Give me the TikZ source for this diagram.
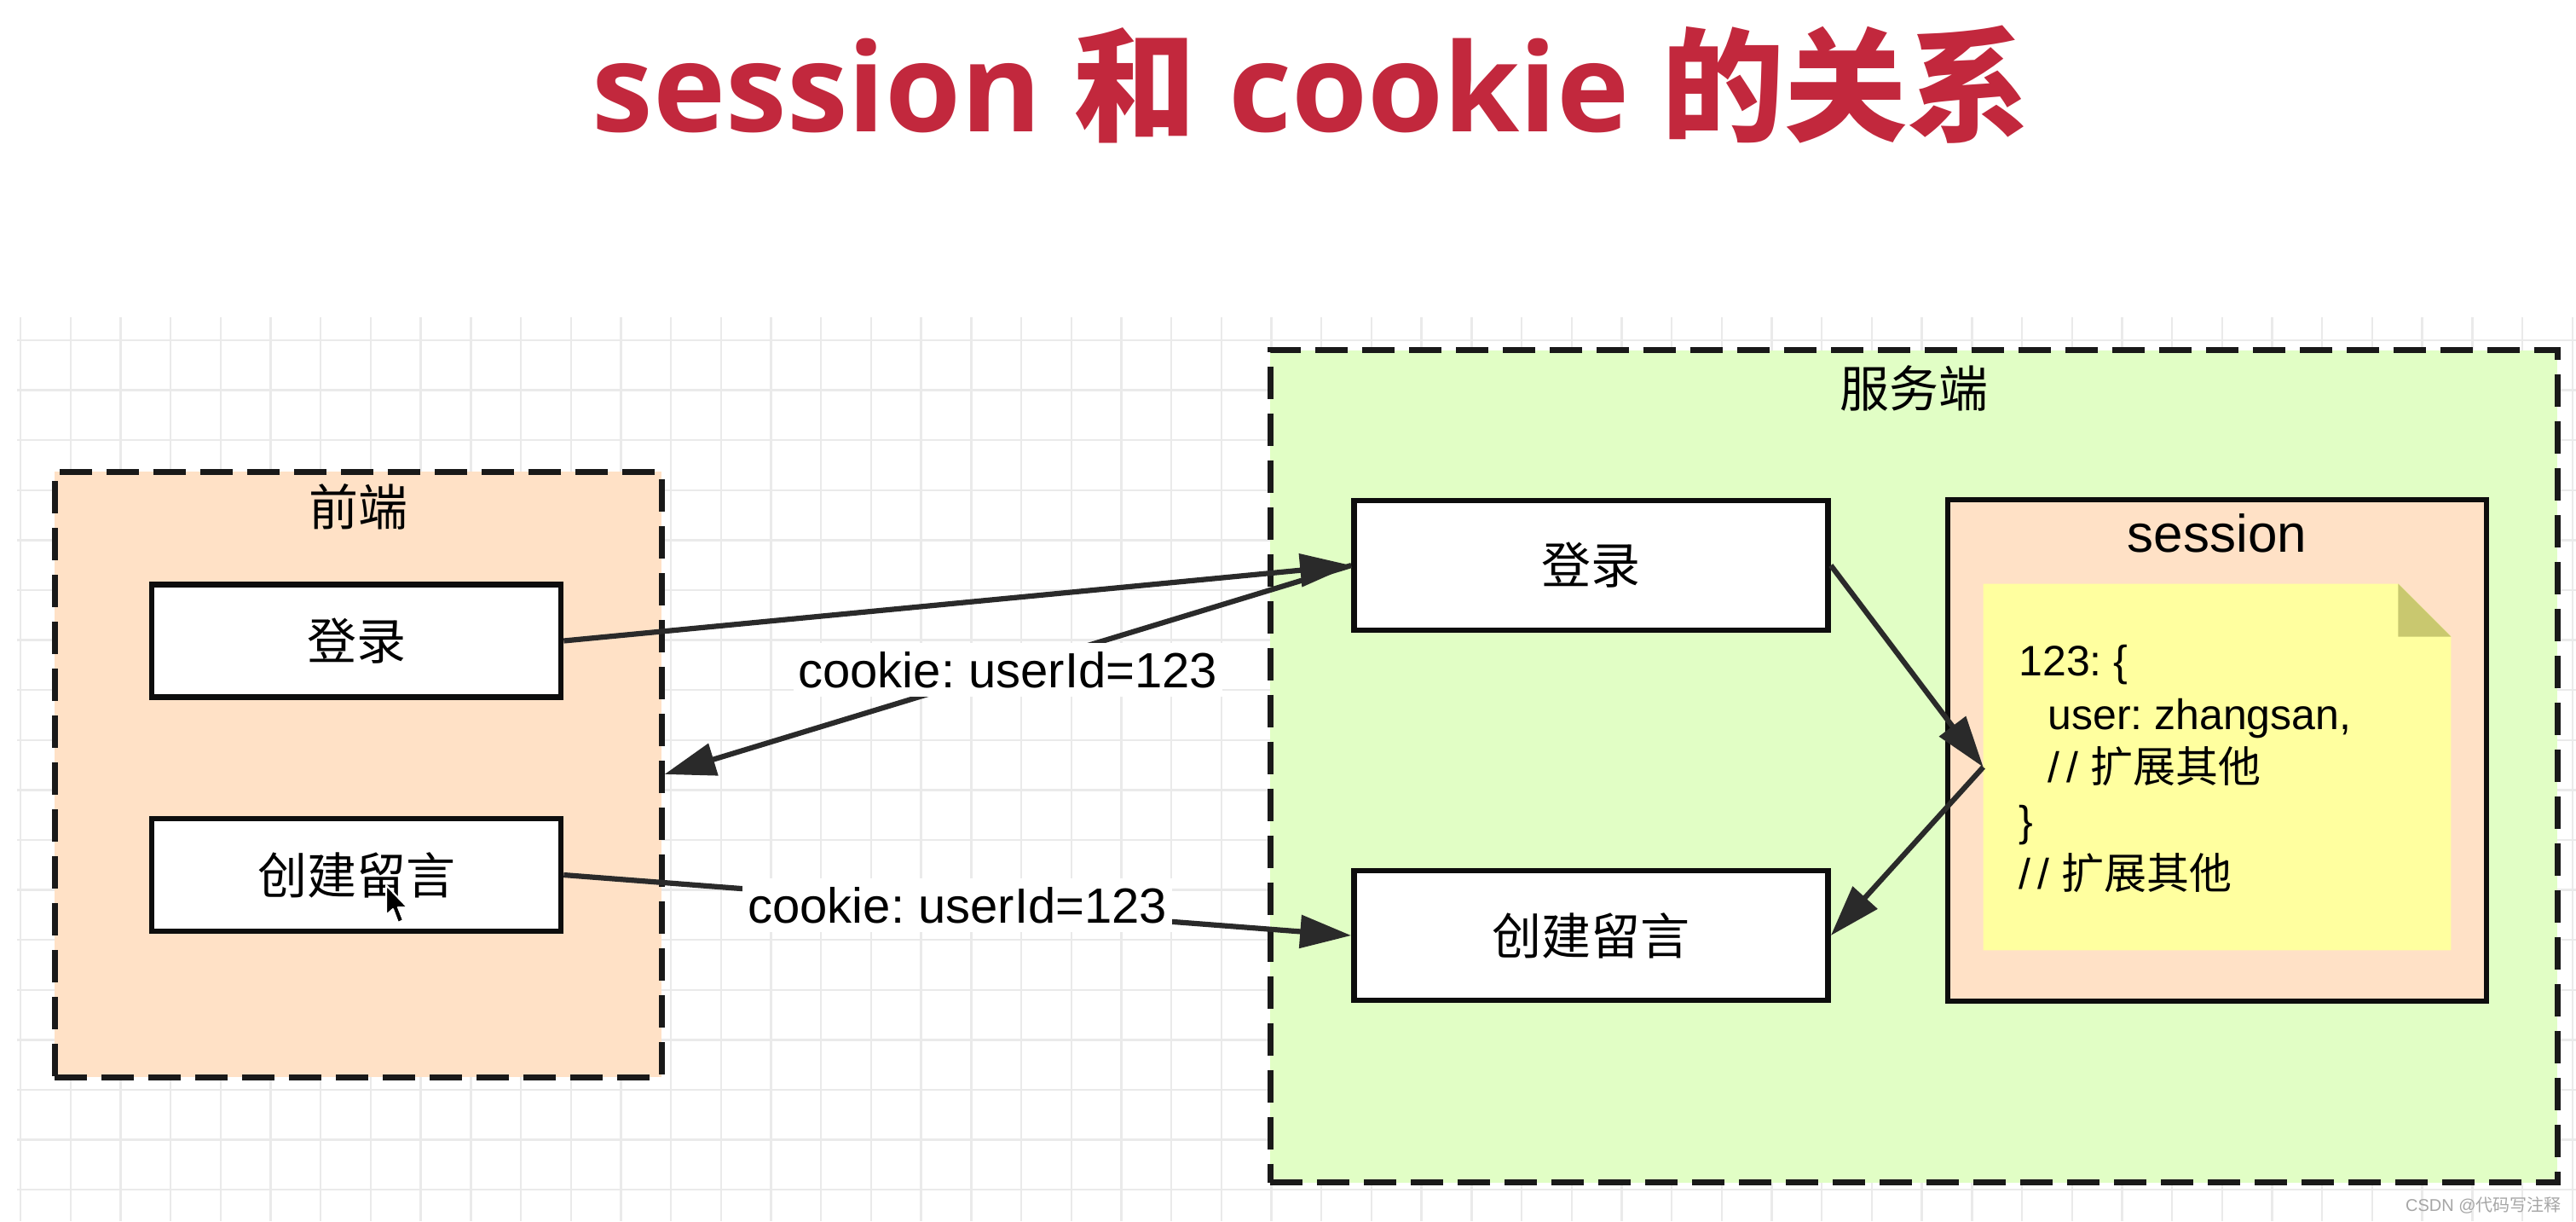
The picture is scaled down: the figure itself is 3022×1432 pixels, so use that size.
\documentclass[tikz,border=0pt]{standalone}
\usepackage{fontspec}
\setmainfont{Liberation Sans}
\newfontfamily\cjk{Noto Sans CJK SC}
\newfontfamily\titlefont{Open Sans}
\usetikzlibrary{arrows.meta}
\definecolor{titlered}{HTML}{C2283D}
\definecolor{gridc}{HTML}{EAEAEA}
\definecolor{peach}{HTML}{FFE1C6}
\definecolor{lgreen}{HTML}{E1FEC5}
\definecolor{noteyellow}{HTML}{FFFF9F}
\definecolor{notefold}{HTML}{C9C86F}
\definecolor{arrowc}{HTML}{2A2A2A}
\definecolor{wmgray}{HTML}{A6A6A6}
\frenchspacing
\begin{document}
\begin{tikzpicture}[x=0.5pt,y=-0.5pt,
  gridline/.style={draw=gridc, line width=1.2pt},
  container/.style={draw=black!90, line width=3.5pt, dash pattern=on 19pt off 8.5pt, inner sep=0pt},
  box/.style={draw=black!95, line width=3.3pt, fill=white, inner sep=0pt, minimum width=240pt, minimum height=66pt, font=\fontsize{29pt}{34pt}\selectfont},
  srvbox/.style={box, minimum width=278pt, minimum height=76pt},
  lbl/.style={inner sep=0pt, font=\fontsize{29pt}{34pt}\selectfont},
  cklabel/.style={fill=white, inner xsep=3pt, inner ysep=5pt, font=\fontsize{29pt}{34pt}\selectfont},
  notetxt/.style={anchor=base west, inner sep=0pt, font=\fontsize{25pt}{31pt}\selectfont},
  conn/.style={draw=arrowc, line width=3.1pt, -{Triangle[length=30pt,width=19pt]}}
]
\useasboundingbox (0,0) rectangle (3022,1432);
\fill[white] (0,0) rectangle (3022,1432);

% grid
\foreach \i in {0,...,51} \draw[gridline] ({24+58.7*\i},372) -- ({24+58.7*\i},1432);
\foreach \j in {0,...,17} \draw[gridline] (20,{399+58.6*\j}) -- (3022,{399+58.6*\j});

% title
\node[anchor=base, text=titlered, inner sep=0pt] (title) at (1538,154)
  {\fontsize{72pt}{80pt}\selectfont\titlefont\bfseries session {\cjk\bfseries 和} cookie {\cjk\bfseries 的关系}};

% containers
\node[container, fill=peach, minimum width=356pt, minimum height=355pt] (fe) at (420,908) {};
\node[lbl] (felabel) at (420,594) {\cjk 前端};
\node[container, fill=lgreen, minimum width=755pt, minimum height=488pt] (srv) at (2245,898.5) {};
\node[lbl] (srvlabel) at (2245,455) {\cjk 服务端};

% front-end boxes
\node[box] (felogin) at (418,751.5) {\cjk 登录};
\node[box] (fecreate) at (418,1026) {\cjk 创建留言};

% server boxes
\node[srvbox] (srvlogin) at (1866.5,663) {\cjk 登录};
\node[srvbox] (srvcreate) at (1866.5,1097) {\cjk 创建留言};

% session box
\node[draw=black!95, line width=3.3pt, fill=peach, minimum width=316pt, minimum height=294pt, inner sep=0pt] (session) at (2601,880) {};
\node[anchor=base, inner sep=0pt, font=\fontsize{31pt}{36pt}\selectfont] (sesslabel) at (2601,647) {session};

% note with folded corner
\node[minimum width=274pt, minimum height=214.5pt, inner sep=0pt] (note) at (2601,899.5) {};
\fill[noteyellow] (note.north west) -- ([xshift=-31pt]note.north east) -- ([yshift=-31pt]note.north east) -- (note.south east) -- (note.south west) -- cycle;
\fill[notefold] ([xshift=-31pt]note.north east) -- ([xshift=-31pt,yshift=-31pt]note.north east) -- ([yshift=-31pt]note.north east) -- cycle;
\node[notetxt] (n1) at (2368,792.5) {123: \{};
\node[notetxt] (n2) at (2402,855) {user: zhangsan,};
\node[notetxt] (n3) at (2402,917.5) {/\,/ {\cjk 扩展其他}};
\node[notetxt] (n4) at (2368,980) {\}};
\node[notetxt] (n5) at (2368,1042.5) {/\,/ {\cjk 扩展其他}};

% connectors
\draw[conn] (srvlogin.west) -- node[cklabel] (ck1) {cookie: userId=123} (fe.east);
\draw[conn] (felogin.east) -- (srvlogin.west);
\draw[conn] (fecreate.east) -- node[cklabel] (ck2) {cookie: userId=123} (srvcreate.west);
\draw[conn] (srvlogin.east) -- (note.west);
\draw[conn] (note.west) -- (srvcreate.east);

% mouse cursor
\draw[fill=black, draw=white, line width=1pt, line join=round] (453,1038) -- (453,1073) -- (461,1066) -- (467,1082) -- (473,1079) -- (467,1064) -- (478,1064) -- cycle;

% watermark
\node[anchor=east, text=wmgray, inner sep=0pt, font=\fontsize{10pt}{12pt}\selectfont] (wm) at (3005,1413) {CSDN @{\cjk 代码写注释}};
\end{tikzpicture}
\end{document}
